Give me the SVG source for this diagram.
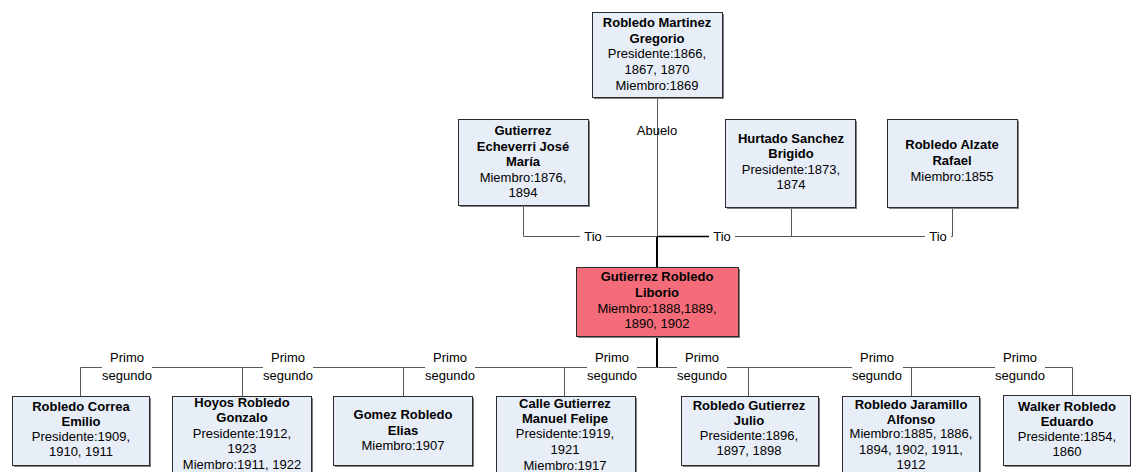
<svg xmlns="http://www.w3.org/2000/svg" width="1131" height="472" viewBox="0 0 1131 472">
<style>
.sh{fill:#808080}
.bx{fill:#E8EEF8;stroke:#2b2b2b;stroke-width:1}
.main{fill:#F46C79}
text{font-family:"Liberation Sans",Arial,sans-serif;font-size:13px;fill:#000;text-anchor:middle}
.b{font-weight:bold}
.ln{stroke:#595959;stroke-width:1;fill:none}
.tk{stroke:#000;stroke-width:2;fill:none}
.lb{fill:#fff}
</style>
<rect width="1131" height="472" fill="#fff"/>
<g id="connectors">
<path class="ln" d="M657.5 97V236"/>
<path class="tk" d="M657 236V267M657 336V367"/>
<path class="ln" d="M523.5 205V236.5H952.5V207M791.5 207V236"/>
<path class="tk" d="M657 236.5H720" style="stroke-width:1.5"/>
<path class="ln" d="M80.5 396V367.5H1072.5V396M242.5 367V396M403.5 367V396M564.5 367V396M748.5 367V396M911.5 367V396"/>
<g id="labels">
<text x="657" y="135">Abuelo</text>
<rect class="lb" x="580" y="229" width="26" height="14"/>
<text x="593" y="241">Tio</text>
<rect class="lb" x="709" y="229" width="26" height="14"/>
<text x="722" y="241">Tio</text>
<rect class="lb" x="925" y="229" width="26" height="14"/>
<text x="938" y="241">Tio</text>
<rect class="lb" x="102" y="350" width="50" height="34"/>
<text x="127" y="362">Primo</text><text x="127" y="380">segundo</text>
<rect class="lb" x="263" y="350" width="50" height="34"/>
<text x="288" y="362">Primo</text><text x="288" y="380">segundo</text>
<rect class="lb" x="425" y="350" width="50" height="34"/>
<text x="450" y="362">Primo</text><text x="450" y="380">segundo</text>
<rect class="lb" x="587" y="350" width="50" height="34"/>
<text x="612" y="362">Primo</text><text x="612" y="380">segundo</text>
<rect class="lb" x="677" y="350" width="50" height="34"/>
<text x="702" y="362">Primo</text><text x="702" y="380">segundo</text>
<rect class="lb" x="852" y="350" width="51" height="34"/>
<text x="877" y="362">Primo</text><text x="877" y="380">segundo</text>
<rect class="lb" x="995" y="350" width="50" height="34"/>
<text x="1020" y="362">Primo</text><text x="1020" y="380">segundo</text>
</g>
</g>
<g id="n-gregorio">
<rect class="sh" x="594" y="14" width="130" height="85"/>
<rect class="bx" x="592.5" y="12.5" width="130" height="85"/>
<text class="b" x="657" y="27">Robledo Martinez</text>
<text class="b" x="657" y="43">Gregorio</text>
<text x="657" y="58">Presidente:1866,</text>
<text x="657" y="74">1867, 1870</text>
<text x="657" y="90">Miembro:1869</text>
</g>
<g id="n-gutierrez-echeverri">
<rect class="sh" x="460" y="121" width="130" height="86"/>
<rect class="bx" x="458.5" y="119.5" width="130" height="86"/>
<text class="b" x="523" y="135">Gutierrez</text>
<text class="b" x="523" y="151">Echeverri José</text>
<text class="b" x="523" y="166">María</text>
<text x="523" y="182">Miembro:1876,</text>
<text x="523" y="197">1894</text>
</g>
<g id="n-hurtado">
<rect class="sh" x="727" y="121" width="130" height="88"/>
<rect class="bx" x="725.5" y="119.5" width="130" height="88"/>
<text class="b" x="791" y="143">Hurtado Sanchez</text>
<text class="b" x="791" y="158">Brigido</text>
<text x="791" y="174">Presidente:1873,</text>
<text x="791" y="189">1874</text>
</g>
<g id="n-alzate">
<rect class="sh" x="889" y="121" width="130" height="88"/>
<rect class="bx" x="887.5" y="119.5" width="130" height="88"/>
<text class="b" x="952" y="149">Robledo Alzate</text>
<text class="b" x="952" y="165">Rafael</text>
<text x="952" y="181">Miembro:1855</text>
</g>
<g id="n-liborio">
<rect class="sh" x="578" y="269" width="162" height="69"/>
<rect class="bx main" x="576.5" y="267.5" width="162" height="69"/>
<text class="b" x="657" y="281">Gutierrez Robledo</text>
<text class="b" x="657" y="297">Liborio</text>
<text x="657" y="313">Miembro:1888,1889,</text>
<text x="657" y="328">1890, 1902</text>
</g>
<g id="n-emilio">
<rect class="sh" x="14" y="398" width="137" height="69"/>
<rect class="bx" x="12.5" y="396.5" width="137" height="69"/>
<text class="b" x="81" y="411">Robledo Correa</text>
<text class="b" x="81" y="426">Emilio</text>
<text x="81" y="441">Presidente:1909,</text>
<text x="81" y="456">1910, 1911</text>
</g>
<g id="n-gonzalo">
<rect class="sh" x="174" y="398" width="139" height="80"/>
<rect class="bx" x="172.5" y="396.5" width="139" height="80"/>
<text class="b" x="242" y="407">Hoyos Robledo</text>
<text class="b" x="242" y="422">Gonzalo</text>
<text x="242" y="438">Presidente:1912,</text>
<text x="242" y="453">1923</text>
<text x="242" y="469">Miembro:1911, 1922</text>
</g>
<g id="n-elias">
<rect class="sh" x="335" y="398" width="139" height="69"/>
<rect class="bx" x="333.5" y="396.5" width="139" height="69"/>
<text class="b" x="403" y="419">Gomez Robledo</text>
<text class="b" x="403" y="435">Elias</text>
<text x="403" y="450">Miembro:1907</text>
</g>
<g id="n-manuel">
<rect class="sh" x="498" y="398" width="139" height="80"/>
<rect class="bx" x="496.5" y="396.5" width="139" height="80"/>
<text class="b" x="565" y="408">Calle Gutierrez</text>
<text class="b" x="565" y="423">Manuel Felipe</text>
<text x="565" y="438">Presidente:1919,</text>
<text x="565" y="454">1921</text>
<text x="565" y="470">Miembro:1917</text>
</g>
<g id="n-julio">
<rect class="sh" x="683" y="398" width="137" height="69"/>
<rect class="bx" x="681.5" y="396.5" width="137" height="69"/>
<text class="b" x="749" y="410">Robledo Gutierrez</text>
<text class="b" x="749" y="425">Julio</text>
<text x="749" y="440">Presidente:1896,</text>
<text x="749" y="455">1897, 1898</text>
</g>
<g id="n-alfonso">
<rect class="sh" x="844" y="398" width="137" height="80"/>
<rect class="bx" x="842.5" y="396.5" width="137" height="80"/>
<text class="b" x="911" y="409">Robledo Jaramillo</text>
<text class="b" x="911" y="424">Alfonso</text>
<text x="911" y="438">Miembro:1885, 1886,</text>
<text x="911" y="454">1894, 1902, 1911,</text>
<text x="911" y="469">1912</text>
</g>
<g id="n-eduardo">
<rect class="sh" x="1005" y="397" width="140" height="70"/>
<rect class="bx" x="1003.5" y="395.5" width="127" height="70"/>
<text class="b" x="1067" y="411">Walker Robledo</text>
<text class="b" x="1067" y="426">Eduardo</text>
<text x="1067" y="441">Presidente:1854,</text>
<text x="1067" y="456">1860</text>
</g>
</svg>
